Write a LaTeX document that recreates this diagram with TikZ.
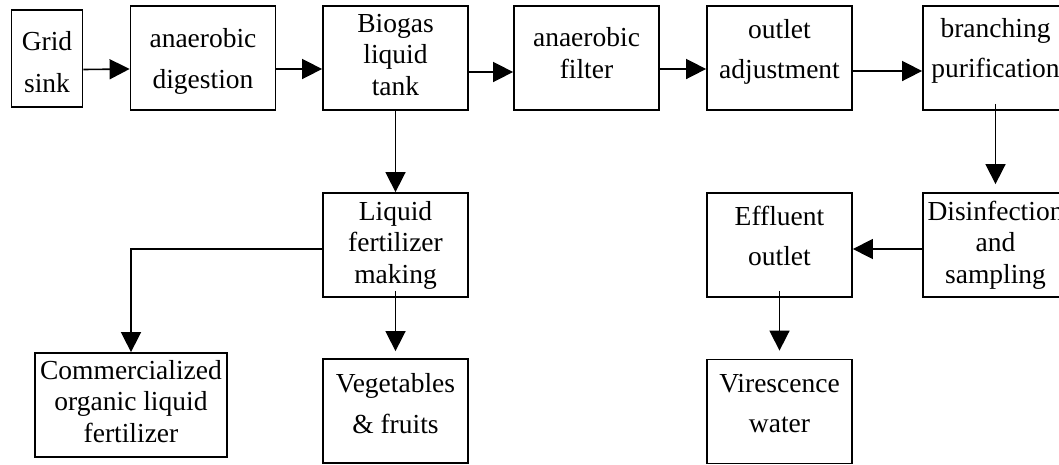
\documentclass[tikz,border=0pt]{standalone}
\usepackage{fontspec}
\setmainfont{Liberation Serif}
\usetikzlibrary{arrows.meta}
\begin{document}
\begin{tikzpicture}[x=1pt,y=-1pt,
  box/.style={draw, line width=1.8pt, inner sep=0pt, align=center,
    font=\fontsize{27.5}{31.5}\selectfont,
    minimum width=145pt, minimum height=104pt, text depth=10pt},
  conn/.style={line width=1.6pt, -{Triangle[length=20pt,width=20pt]}},
  into/.style={shorten <=-7pt}
]
\fill[white] (0,0) rectangle (1059,464);
\useasboundingbox (0,0) rectangle (1059,464);
\clip (0,0) rectangle (1059,464);

% top row
\node[box, minimum width=71pt, minimum height=97pt, text height=77pt] (grid) at (47,58.5) {Grid\\[10.5pt]sink};
\node[box, text height=70pt] (dig) at (203,58) {anaerobic\\[9.5pt]digestion};
\node[box, text height=84pt] (tank) at (395.5,58) {Biogas\\liquid\\tank};
\node[box, text height=50pt] (filt) at (586.5,58) {anaerobic\\filter};
\node[box, text height=50pt] (outl) at (779.5,58) {outlet\\[8.5pt]adjustment};
\node[box, text height=48pt] (branch) at (995.5,58) {branching\\[8.5pt]purification};

% middle row
\node[box, text height=86pt] (liq) at (395.5,245) {Liquid\\fertilizer\\making};
\node[box, text height=50pt] (eff) at (779.5,245) {Effluent\\[8.5pt]outlet};
\node[box, text height=86pt] (dis) at (995.5,245) {Disinfection\\and\\sampling};

% bottom row
\node[box, minimum width=192pt, text height=84pt] (comm) at (131,405) {Commercialized\\organic liquid\\fertilizer};
\node[box, text height=54pt] (veg) at (395.5,411) {Vegetables\\[9.5pt]\& fruits};
\node[box, text height=51pt] (vir) at (779.5,411.5) {Virescence\\[8.5pt]water};

% connectors
\draw[conn] ([yshift=-11pt]grid.east) -- ([yshift=-11pt]dig.west);
\draw[conn] ([yshift=-11pt]dig.east) -- ([yshift=-11pt]tank.west);
\draw[conn] ([yshift=-14pt]tank.east) -- ([yshift=-14pt]filt.west);
\draw[conn] ([yshift=-11pt]filt.east) -- ([yshift=-11pt]outl.west);
\draw[conn] ([yshift=-13pt]outl.east) -- ([yshift=-13pt]branch.west);
\draw[conn] (tank.south) -- (liq.north);
\draw[conn, into, shorten >=8pt] (branch.south) -- (dis.north);
\draw[conn] ([yshift=-4pt]dis.west) -- ([yshift=-4pt]eff.east);
\draw[conn] ([yshift=-4pt]liq.west) -| (comm.north);
\draw[conn, into, shorten >=7pt] (liq.south) -- (veg.north);
\draw[conn, into, shorten >=8pt] (eff.south) -- (vir.north);
\end{tikzpicture}
\end{document}
